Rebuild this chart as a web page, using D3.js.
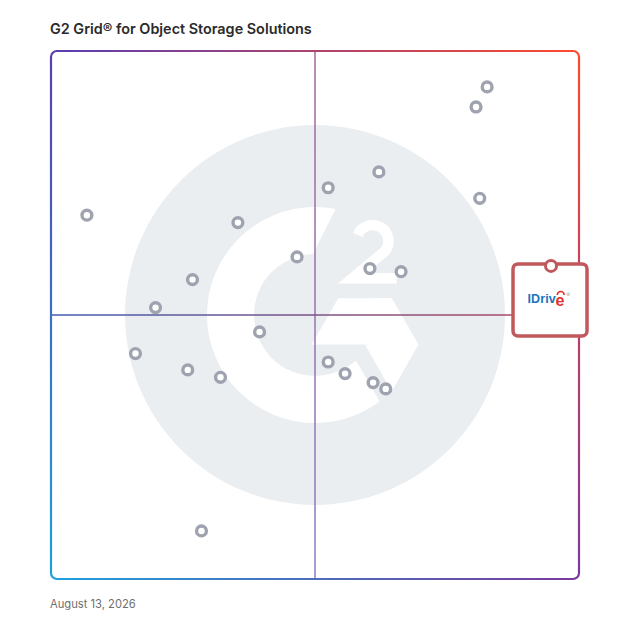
<!DOCTYPE html>
<html>
<head>
<meta charset="utf-8">
<script src="https://cdn.jsdelivr.net/npm/d3@7/dist/d3.min.js"></script>
<style>
  html, body { margin: 0; padding: 0; background: #ffffff; }
  svg { display: block; }
</style>
</head>
<body>
<script>
// ---- Data ----
const title = "G2 Grid® for Object Storage Solutions";
const dateLabel = "August 13, 2026";
// Competitor products: x = market presence (0-100), y = satisfaction (0-100)
const marketPresence = [82.6, 80.5, 62.1, 52.5, 81.2, 6.8, 35.4, 46.6, 60.4, 66.3, 26.8, 19.8, 39.5, 16.0, 52.5, 55.7, 25.9, 32.1, 61.0, 63.4, 28.5];
const satisfaction   = [93.2, 89.4, 77.1, 74.1, 72.1, 68.9, 67.5, 61.0, 58.8, 58.2, 56.7, 51.4, 46.8, 42.7, 41.1, 38.9, 39.6, 38.2, 37.2, 36.0, 9.1];
// Highlighted product
const featuredName = "IDrive";
const featuredX = [94.7];
const featuredY = [59.3];
const domainX = [0, 100];
const domainY = [0, 100];

// ---- Layout ----
const W = 628, H = 628;
const mL = 51, mR = 579, mT = 51, mB = 579;

const svg = d3.select("body").append("svg").attr("width", W).attr("height", H);
const defs = svg.append("defs");

const x = d3.scaleLinear().domain(domainX).range([mL, mR]);
const y = d3.scaleLinear().domain(domainY).range([mB, mT]);

function grad(id, x1, y1, x2, y2, c1, c2) {
  const g = defs.append("linearGradient").attr("id", id)
    .attr("gradientUnits", "userSpaceOnUse")
    .attr("x1", x1).attr("y1", y1).attr("x2", x2).attr("y2", y2);
  g.append("stop").attr("offset", 0).attr("stop-color", c1);
  g.append("stop").attr("offset", 1).attr("stop-color", c2);
  return `url(#${id})`;
}

// ---- G2 watermark logo ----
const cx = x(50), cy = y(50);
const logo = svg.append("g").attr("transform", `translate(${cx},${cy})`);
const grey = "#ebeef1";
logo.append("circle").attr("r", 190).attr("fill", grey);
logo.append("circle").attr("r", 108).attr("fill", "#ffffff");
logo.append("circle").attr("r", 61).attr("fill", grey);
const poly = pts => "M" + pts.map(p => p.join(",")).join("L") + "Z";
// opening at top-right of the G
logo.append("path").attr("fill", grey)
  .attr("d", poly([[30.4,-125.6],[-15,-35],[-15,-16.7],[76.7,-16.7],[103.3,29.5],[145,29.5],[145,-115]]));
// channel under the bar
logo.append("path").attr("fill", grey)
  .attr("d", poly([[-5,29.5],[50,29.5],[85,90.1],[76.7,107.3],[41.7,46.7],[15,35]]));
// segment outside the chevron
logo.append("path").attr("fill", grey)
  .attr("d", poly([[103.3,29.5],[76.7,76.2],[95,108],[145,65],[145,29.5]]));
// bar and arrow of the G
logo.append("path").attr("fill", "#ffffff")
  .attr("d", poly([[23.3,-16.7],[76.7,-16.7],[103.3,29.5],[-3.3,29.5]]));
logo.append("path").attr("fill", "#ffffff")
  .attr("d", poly([[50,29.5],[103.3,29.5],[76.7,76.2]]));
// the "2"
logo.append("path").attr("fill", "none").attr("stroke", "#ffffff")
  .attr("stroke-width", 10.5).attr("stroke-linejoin", "miter")
  .attr("d", "M42.7,-80 A16,16 0 1 1 69.8,-63.7 L37.5,-36.7 L81.7,-36.7");

// ---- Quadrant lines ----
svg.append("line")
  .attr("x1", x(50)).attr("x2", x(50)).attr("y1", mT).attr("y2", mB)
  .attr("stroke", grad("gv", 0, mT, 0, mB, "#a5669c", "#8a7dc4"))
  .attr("stroke-width", 1.5);
svg.append("line")
  .attr("x1", mL).attr("x2", mR).attr("y1", y(50)).attr("y2", y(50))
  .attr("stroke", grad("gh", mL, 0, mR, 0, "#3f5db2", "#b8475a"))
  .attr("stroke-width", 1.5);

// ---- Border (four gradient edges) ----
const r = 6;
const cTL = "#5a3db3", cTR = "#ff4a2b", cBR = "#7a3a9c", cBL = "#1ea0dc";
const border = svg.append("g").attr("fill", "none").attr("stroke-width", 2.2);
border.append("path").attr("stroke", grad("gt", mL, 0, mR, 0, cTL, cTR))
  .attr("d", `M${mL + r},${mT} L${mR - r},${mT}`);
border.append("path").attr("stroke", grad("gr", 0, mT, 0, mB, cTR, cBR))
  .attr("d", `M${mR},${mT + r} L${mR},${mB - r}`);
border.append("path").attr("stroke", grad("gb", mL, 0, mR, 0, cBL, cBR))
  .attr("d", `M${mL + r},${mB} L${mR - r},${mB}`);
border.append("path").attr("stroke", grad("gl", 0, mT, 0, mB, cTL, cBL))
  .attr("d", `M${mL},${mT + r} L${mL},${mB - r}`);
border.append("path").attr("stroke", cTL).attr("d", `M${mL},${mT + r} A${r},${r} 0 0 1 ${mL + r},${mT}`);
border.append("path").attr("stroke", cTR).attr("d", `M${mR - r},${mT} A${r},${r} 0 0 1 ${mR},${mT + r}`);
border.append("path").attr("stroke", cBR).attr("d", `M${mR},${mB - r} A${r},${r} 0 0 1 ${mR - r},${mB}`);
border.append("path").attr("stroke", cBL).attr("d", `M${mL + r},${mB} A${r},${r} 0 0 1 ${mL},${mB - r}`);

// ---- Competitor markers ----
const pts = marketPresence.map((v, i) => ({ x: v, y: satisfaction[i] }));
svg.append("g").selectAll("circle").data(pts).join("circle")
  .attr("cx", d => x(d.x)).attr("cy", d => y(d.y))
  .attr("r", 4.9)
  .attr("fill", "#ffffff")
  .attr("stroke", "#9ea3af")
  .attr("stroke-width", 3.4);

// ---- Featured product card ----
const fx = x(featuredX[0]), fy = y(featuredY[0]);
const card = svg.append("g");
const red = "#c1585b";
card.append("rect")
  .attr("x", fx - 38).attr("y", fy - 2)
  .attr("width", 74).attr("height", 72)
  .attr("rx", 5).attr("ry", 5)
  .attr("fill", "#ffffff").attr("stroke", red).attr("stroke-width", 3.5);
card.append("circle").attr("cx", fx).attr("cy", fy).attr("r", 5.5)
  .attr("fill", "#ffffff").attr("stroke", red).attr("stroke-width", 3);
// logo of the featured product
const lg = card.append("g").attr("transform", `translate(${fx - 23.5},${fy + 37})`);
lg.append("text").attr("x", 0).attr("y", 0)
  .attr("font-family", "Liberation Sans, Arial, sans-serif")
  .attr("font-weight", 700).attr("font-size", 12.5)
  .attr("letter-spacing", 0.1)
  .attr("fill", "#1b74bc").text(featuredName.slice(0, 5));
lg.append("text").attr("x", 28).attr("y", 3.5)
  .attr("font-family", "Liberation Sans, Arial, sans-serif")
  .attr("font-weight", 700).attr("font-size", 16)
  .attr("fill", "#e5302c").text(featuredName.slice(5));
lg.append("path").attr("fill", "none").attr("stroke", "#e5302c").attr("stroke-width", 1.7)
  .attr("d", "M29.8,-8 A3.4,3.4 0 0 1 36.6,-8");
lg.append("text").attr("x", 38.5).attr("y", -6.5)
  .attr("font-family", "DejaVu Sans, sans-serif")
  .attr("font-size", 4.5).attr("fill", "#8a8a8a").text("®");

// ---- Title and date ----
svg.append("text").attr("x", 50).attr("y", 34.3)
  .attr("font-family", "Inter, 'Open Sans', sans-serif")
  .attr("font-weight", 600).attr("font-size", 14.4)
  .attr("fill", "#2a2a2a").text(title);
svg.append("text").attr("x", 50).attr("y", 607.7)
  .attr("font-family", "Inter, 'Open Sans', sans-serif")
  .attr("font-size", 11.2).attr("fill", "#6f6f6f").text(dateLabel);
</script>
</body>
</html>
